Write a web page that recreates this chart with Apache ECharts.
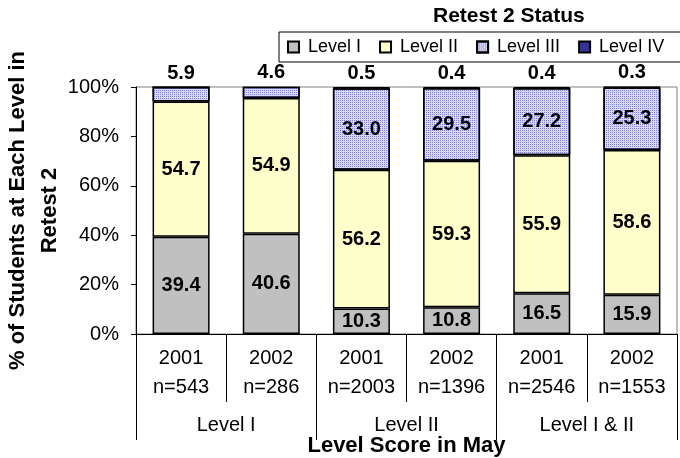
<!DOCTYPE html>
<html>
<head>
<meta charset="utf-8">
<script src="https://cdn.jsdelivr.net/npm/echarts@6/dist/echarts.min.js"></script>
<style>
  html, body { margin: 0; padding: 0; background: #fff; }
  #main { width: 680px; height: 458px; }
</style>
</head>
<body>
<div id="main"></div>
<script>
// bars, left to right
const categories = ["2001\nn=543", "2002\nn=286", "2001\nn=2003", "2002\nn=1396", "2001\nn=2546", "2002\nn=1553"]
const groups = ["Level I", "Level II", "Level I & II"]
const levelNames = ["Level I", "Level II", "Level III", "Level IV"]
const level1 = [39.4, 40.6, 10.3, 10.8, 16.5, 15.9]
const level2 = [54.7, 54.9, 56.2, 59.3, 55.9, 58.6]
const level3 = [5.9, 4.6, 33.0, 29.5, 27.2, 25.3]
const level4 = [0, 0, 0.5, 0.4, 0.4, 0.3]
const yTicks = [0, 20, 40, 60, 80, 100]

const font = "Arial, 'Liberation Sans', sans-serif"

let labelStyle = {
  show: true,
  position: "inside",
  color: "#000",
  fontFamily: font,
  fontSize: 20,
  fontWeight: "bold",
  formatter: (p) => p.value.toFixed(1)
}

// level III: label sits on top of the bar when level IV is empty
let level3Data = level3.map((v, i) => {
  if (level4[i] === 0) {
    return { value: v, label: { position: "top", distance: 4 } }
  }
  return v
})
let level4Data = level4.map((v) => {
  if (v === 0) {
    return { value: v, label: { show: false } }
  }
  return v
})

let option = {
  animation: false,
  backgroundColor: "#fff",
  textStyle: { fontFamily: font },
  title: {
    text: "Retest 2 Status",
    left: 433,
    top: 6,
    padding: 0,
    textStyle: { fontFamily: font, fontSize: 21, fontWeight: "bold", color: "#000" }
  },
  legend: {
    data: levelNames,
    left: 279,
    width: 480,
    top: 32,
    padding: [6, 40, 6, 8],
    itemGap: 18,
    itemWidth: 11,
    itemHeight: 11,
    borderColor: "#000",
    borderWidth: 1,
    icon: "rect",
    textStyle: {
      fontFamily: font,
      fontSize: 18,
      color: "#000",
      lineHeight: 15,
      padding: [0, 0, 0, 4]
    }
  },
  grid: {
    left: 136,
    right: 3,
    top: 87,
    bottom: 124,
    outerBoundsMode: "none",
    containLabel: false,
    show: true,
    borderColor: "#808080",
    borderWidth: 1
  },
  xAxis: [
    {
      type: "category",
      data: categories,
      position: "bottom",
      axisLine: { lineStyle: { color: "#000", width: 1 } },
      axisTick: { show: true, interval: 0, length: 68, lineStyle: { color: "#000" } },
      axisLabel: {
        interval: 0,
        margin: 10,
        color: "#000",
        fontFamily: font,
        fontSize: 20,
        lineHeight: 29
      },
      name: "Level Score in May",
      nameLocation: "middle",
      nameGap: 101,
      nameMoveOverlap: false,
      nameTextStyle: { fontFamily: font, fontSize: 22, fontWeight: "bold", color: "#000" }
    },
    {
      type: "category",
      data: groups,
      position: "bottom",
      axisLine: { show: false },
      axisTick: { show: true, interval: 0, length: 106, lineStyle: { color: "#000" } },
      axisLabel: {
        interval: 0,
        margin: 81,
        color: "#000",
        fontFamily: font,
        fontSize: 20
      }
    }
  ],
  yAxis: {
    type: "value",
    min: yTicks[0],
    max: yTicks[yTicks.length - 1],
    interval: 20,
    axisLine: { show: true, lineStyle: { color: "#000" } },
    axisTick: { show: true, length: 5, lineStyle: { color: "#000" } },
    splitLine: { show: false },
    axisLabel: {
      margin: 17,
      color: "#000",
      fontFamily: font,
      fontSize: 20,
      formatter: "{value}%"
    },
    name: "% of Students at Each Level in\nRetest 2",
    nameLocation: "middle",
    nameRotate: 90,
    nameGap: 70,
    nameMoveOverlap: false,
    nameTextStyle: { fontFamily: font, fontSize: 22, fontWeight: "bold", color: "#000", lineHeight: 32 }
  },
  series: [
    {
      name: levelNames[0],
      type: "bar",
      stack: "total",
      barWidth: 57,
      data: level1,
      itemStyle: { color: "#C0C0C0", borderColor: "#000", borderWidth: 1.5 },
      label: labelStyle
    },
    {
      name: levelNames[1],
      type: "bar",
      stack: "total",
      barWidth: 57,
      data: level2,
      itemStyle: { color: "#FFFFCC", borderColor: "#000", borderWidth: 1.5 },
      label: labelStyle
    },
    {
      name: levelNames[2],
      type: "bar",
      stack: "total",
      barWidth: 57,
      data: level3Data,
      itemStyle: {
        color: "#D8D8F6",
        borderColor: "#000",
        borderWidth: 1.5,
        decal: {
          symbol: "rect",
          symbolSize: 1,
          color: "#7F7FDC",
          dashArrayX: [1, 1],
          dashArrayY: [1, 1],
          rotation: 0
        }
      },
      label: labelStyle
    },
    {
      name: levelNames[3],
      type: "bar",
      stack: "total",
      barWidth: 57,
      data: level4Data,
      itemStyle: { color: "#333399", borderColor: "#000", borderWidth: 1 },
      label: Object.assign({}, labelStyle, { position: "top", distance: 4 })
    }
  ]
}

const myChart = echarts.init(document.getElementById("main"))
myChart.setOption(option)
</script>
</body>
</html>
